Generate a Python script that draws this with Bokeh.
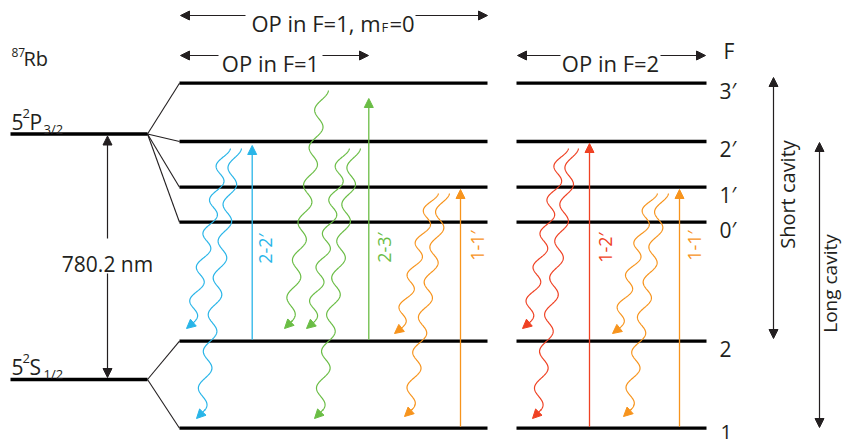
import numpy as np
from bokeh.plotting import figure
from bokeh.models import Range1d, Arrow, NormalHead, Label
from bokeh.core.properties import value
from bokeh.embed import file_html
from bokeh.resources import INLINE

# ---------------- data ----------------
# fine-structure levels (left)
fine_y = [133.5, 379.0]          # 5²P3/2 , 5²S1/2
fine_x0 = [10.0, 10.0]
fine_x1 = [147.0, 147.0]

# hyperfine levels
hf_labels = ["3′", "2′", "1′", "0′", "2", "1"]
hf_y = [82.7, 141.0, 186.7, 221.7, 340.7, 427.7]
hf_parent = [0, 0, 0, 0, 1, 1]
block_x0 = [179.0, 516.0]
block_x1 = [487.0, 706.0]

# pump transitions (straight arrows)
pump_x = [251.7, 368.3, 460.0, 589.0, 679.0]
pump_from = [4, 4, 5, 5, 5]
pump_tip = [145.0, 98.0, 189.0, 143.0, 189.0]
pump_label = ["2-2′", "2-3′", "1-1′", "1-2′", "1-1′"]
pump_color = ["blue", "green", "orange", "red", "orange"]
pump_label_x = [264.5, 383.0, 476.0, 604.0, 693.0]
pump_label_y = [248.0, 247.0, 245.0, 247.0, 245.0]

# spontaneous decays (wavy arrows): start and tip
decay_x0 = [230, 241, 328, 349, 360, 438, 449, 568, 578, 657, 668]
decay_y0 = [148, 148, 90, 148, 148, 193, 193, 148, 148, 193, 193]
decay_x1 = [186, 196, 284, 306, 314, 394, 404, 522, 532, 612, 623]
decay_y1 = [328, 418, 328, 328, 418, 333, 416, 328, 418, 333, 416]
decay_color = ["blue", "blue", "green", "green", "green", "orange", "orange",
               "red", "red", "orange", "orange"]

# OP range arrows
op_text = ["OP in F=1", "OP in F=2"]
op_center = [270.0, 610.0]
op_left = [180.0, 517.0]
op_right = [368.0, 705.0]
op_gap = [(218.0, 322.0), (560.0, 660.0)]

# cavity ranges
cav_text = ["Short cavity", "Long cavity"]
cav_x = [773.0, 819.0]
cav_top = [77.0, 142.0]
cav_bot = [338.0, 427.0]
cav_label_x = [787.0, 829.0]
cav_label_y = [194.0, 283.0]
cav_font = [20, 19]

COLORS = {"blue": "#29B5E8", "green": "#6ABD45", "orange": "#F7941D", "red": "#EF4123"}
INK = "#231F20"
FONT = value("Open Sans")

p = figure(width=843, height=439, x_range=Range1d(0, 843), y_range=Range1d(439, 0),
           output_backend="svg", toolbar_location=None, min_border=0)
p.axis.visible = False
p.grid.visible = False
p.outline_line_color = None
p.background_fill_color = "white"


def txt(x, y, s, size, color=INK, align="left", baseline="alphabetic", angle=0.0):
    p.text(x=[x], y=[y], text=[s], text_font=FONT, text_font_size=value(f"{size}px"),
           text_color=color, text_align=align, text_baseline=baseline, angle=angle)


def arrow(x0, y0, x1, y1, color, lw=1.2, size=9, both=False):
    head = NormalHead(size=size, fill_color=color, line_color=color, line_width=1)
    kw = dict(x_start=x0, y_start=y0, x_end=x1, y_end=y1, end=head,
              line_color=color, line_width=lw)
    if both:
        kw["start"] = NormalHead(size=size, fill_color=color, line_color=color, line_width=1)
    else:
        kw["start"] = None
    p.add_layout(Arrow(**kw))


# connecting lines
for i, y in enumerate(hf_y):
    py = fine_y[hf_parent[i]]
    p.line([fine_x1[0], block_x0[0]], [py, y], line_color=INK, line_width=1.1)

# levels
p.segment(x0=fine_x0, y0=fine_y, x1=fine_x1, y1=fine_y, line_color="black", line_width=3.3)
for bx0, bx1 in zip(block_x0, block_x1):
    p.segment(x0=[bx0] * len(hf_y), y0=hf_y, x1=[bx1] * len(hf_y), y1=hf_y,
              line_color="black", line_width=3.3)

# level labels
for lab, y in zip(hf_labels, hf_y):
    if y > 420:
        p.add_layout(Label(x=720, y=431, text=lab, text_font="Open Sans",
                           text_font_size="20px", text_color=INK,
                           text_baseline="alphabetic", text_align="left"))
    else:
        txt(719, y + 7.5, lab, 21)
txt(723, 50, "F", 21)

# pump arrows
for x, f, tip, lab, c, lx, ly in zip(pump_x, pump_from, pump_tip, pump_label, pump_color,
                                       pump_label_x, pump_label_y):
    col = COLORS[c]
    arrow(x, hf_y[f] - 1.5, x, tip, col, lw=1.3, size=9)
    txt(lx, ly, lab, 18, color=col, align="center", baseline="middle", angle=np.pi / 2)

# wavy decays
A = 5.5
P = 38.0
for x0, y0, x1, y1, c in zip(decay_x0, decay_y0, decay_x1, decay_y1, decay_color):
    col = COLORS[c]
    L = float(np.hypot(x1 - x0, y1 - y0))
    cyc = max(1, round(L / P - 0.35)) + 0.35
    t = np.linspace(0, 1, 400)
    bx0 = x0 - A
    bx1 = x1 - A * np.cos(2 * np.pi * cyc)
    xs = bx0 + (bx1 - bx0) * t + A * np.cos(2 * np.pi * cyc * t)
    ys = y0 + (y1 - y0) * t
    p.line(xs[:-12], ys[:-12], line_color=col, line_width=1.2)
    arrow(xs[-14], ys[-14], xs[-1], ys[-1], col, lw=1.2, size=9)

# 780.2 nm arrow
arrow(107, 238, 107, 135.5, INK, lw=1.2, size=9)
arrow(107, 273, 107, 377, INK, lw=1.2, size=9)
txt(107, 263, "780.2 nm", 21, align="center")

# left labels
txt(11, 52, "87", 12)
txt(23, 58, "Rb", 20)
txt(11, 121, "5", 21)
txt(22, 113, "2", 13)
txt(29, 121, "P", 21)
txt(43, 128, "3/2", 13)
txt(11, 366, "5", 21)
txt(22, 358, "2", 13)
txt(29, 366, "S", 21)
txt(43, 373, "1/2", 13)

# OP arrows
arrow(245, 15, 180, 15, INK, lw=1.2, size=9)
arrow(415, 15, 487, 15, INK, lw=1.2, size=9)
txt(380, 22, "OP in F=1, m", 22, align="right")
txt(381, 26, "F", 13)
txt(389, 22, "=0", 22)
for s, cx, l, r, (g0, g1) in zip(op_text, op_center, op_left, op_right, op_gap):
    arrow(g0, 55, l, 55, INK, lw=1.2, size=9)
    arrow(g1, 55, r, 55, INK, lw=1.2, size=9)
    txt(cx, 62, s, 22, align="center")

# cavity arrows
for s, x, t0, b0, lx, ly, fs in zip(cav_text, cav_x, cav_top, cav_bot, cav_label_x,
                                     cav_label_y, cav_font):
    arrow(x, b0, x, t0, INK, lw=1.2, size=9, both=True)
    txt(lx, ly, s, fs, align="center", baseline="middle", angle=np.pi / 2)

open("out.html", "w").write(file_html(p, INLINE))
